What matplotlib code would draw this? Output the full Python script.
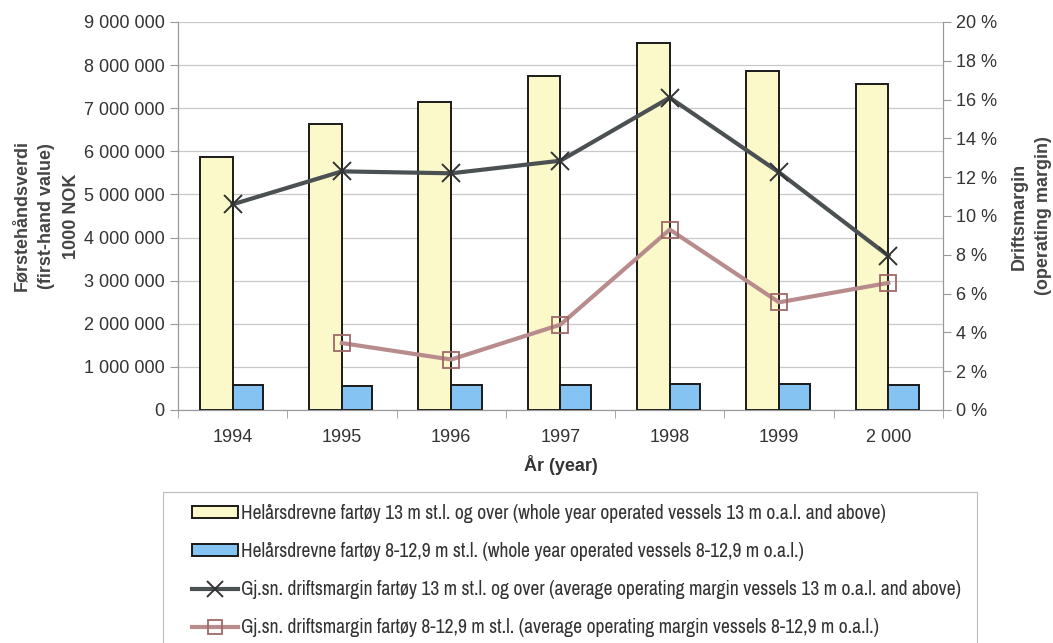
import numpy as np
import matplotlib.pyplot as plt
import matplotlib.font_manager as fm
from matplotlib.patches import Rectangle
from matplotlib.ticker import FuncFormatter, FixedLocator

years = ['1994', '1995', '1996', '1997', '1998', '1999', '2 000']
value_13m = [5870000, 6640000, 7150000, 7750000, 8520000, 7870000, 7560000]
value_8m = [570000, 550000, 570000, 570000, 600000, 600000, 580000]
margin_13m = [10.6, 12.3, 12.2, 12.85, 16.1, 12.25, 7.95]
margin_8m = [np.nan, 3.45, 2.6, 4.4, 9.3, 5.55, 6.55]

labels = ['Helårsdrevne fartøy 13 m st.l. og over (whole year operated vessels 13 m o.a.l. and above)',
          'Helårsdrevne fartøy 8-12,9 m st.l. (whole year operated vessels 8-12,9 m o.a.l.)',
          'Gj.sn. driftsmargin fartøy 13 m st.l. og over (average operating margin vessels 13 m o.a.l. and above)',
          'Gj.sn. driftsmargin fartøy 8-12,9 m st.l. (average operating margin vessels 8-12,9 m o.a.l.)']

plt.rcParams['font.family'] = ['Liberation Sans', 'DejaVu Sans']
TXT = '#333333'

# legend text in the original is a narrow face; use one if there is any
narrow = sorted({f.fname for f in fm.fontManager.ttflist
                 if ('Narrow' in f.name or 'Condensed' in f.name)
                 and f.weight in (400, 'normal', 'regular') and f.style == 'normal'})
if narrow:
    leg_prop = fm.FontProperties(fname=narrow[0], size=14.1)
else:
    leg_prop = fm.FontProperties(family='Liberation Sans', size=11.5)

fig = plt.figure(figsize=(10.53, 6.43), dpi=100)
ax = fig.add_axes([0.169, 0.3624, 0.7265, 0.6034])
ax2 = ax.twinx()

x = np.arange(len(years))
b1 = ax.bar(x - 0.15, value_13m, width=0.3, color='#fbf8c9', edgecolor='#1a1a1a', linewidth=1.4, zorder=3)
b2 = ax.bar(x + 0.14, value_8m, width=0.28, color='#84c3f2', edgecolor='#1a1a1a', linewidth=1.4, zorder=3)

l1, = ax2.plot(x, margin_13m, color='#4b5152', lw=3, marker='x', ms=13, mew=1.4,
               mec='#333333', zorder=4)
l2, = ax2.plot(x, margin_8m, color='#b88c8c', lw=3, marker='s', ms=12, mew=1.3,
               mfc='none', mec='#a06868', zorder=4)

ax.set_xlim(-0.5, 6.5)
ax.set_ylim(0, 9000000)
ax.set_yticks(np.arange(0, 9000001, 1000000))
ax.yaxis.set_major_formatter(FuncFormatter(lambda v, p: f'{int(v):,}'.replace(',', ' ')))
ax.grid(axis='y', color='#c8c8c8', lw=0.9, zorder=0)
ax.set_axisbelow(True)

ax.set_xticks(x)
ax.set_xticklabels(years)
ax.xaxis.set_minor_locator(FixedLocator(np.arange(-0.5, 7, 1)))
ax.tick_params(axis='x', which='major', length=0, pad=14)
ax.tick_params(axis='x', which='minor', length=6, color='#999999')
ax.tick_params(axis='y', length=6, color='#999999')
ax.tick_params(labelsize=13, labelcolor=TXT)

ax2.set_ylim(0, 20)
ax2.set_yticks(np.arange(0, 21, 2))
ax2.yaxis.set_major_formatter(FuncFormatter(lambda v, p: f'{int(v)} %'))
ax2.tick_params(axis='y', length=6, color='#999999', labelsize=13, labelcolor=TXT)

for a in (ax, ax2):
    a.spines['top'].set_visible(False)
    for s in ('left', 'right', 'bottom'):
        a.spines[s].set_color('#999999')

ax.set_ylabel('Førstehåndsverdi\n(first-hand value)\n1000 NOK', fontsize=13, fontweight='bold',
              color='#444444', labelpad=3, linespacing=1.6)
ax2.set_ylabel('Driftsmargin\n(operating margin)', fontsize=13, fontweight='bold',
               color='#444444', labelpad=10, linespacing=1.5)
ax.set_xlabel('År (year)', fontsize=13, fontweight='bold', color='#333333', labelpad=6)

# legend box (bottom edge runs off the picture, as in the original)
fig.patches.append(Rectangle((163 / 1053, -0.02), (977 - 163) / 1053, (643 - 492) / 643 + 0.02,
                             transform=fig.transFigure, fill=False, ec='#bbbbbb', lw=0.8))
leg = fig.legend([b1, b2, l1, l2], labels, loc='upper left',
                 bbox_to_anchor=(192 / 1053, 1 - 504 / 643), borderaxespad=0, borderpad=0,
                 prop=leg_prop, handlelength=2.35, handleheight=0.5, handletextpad=0.15,
                 labelspacing=0.97, frameon=False, labelcolor=TXT, markerscale=0.85)

fig.savefig('out.png', dpi=100)
